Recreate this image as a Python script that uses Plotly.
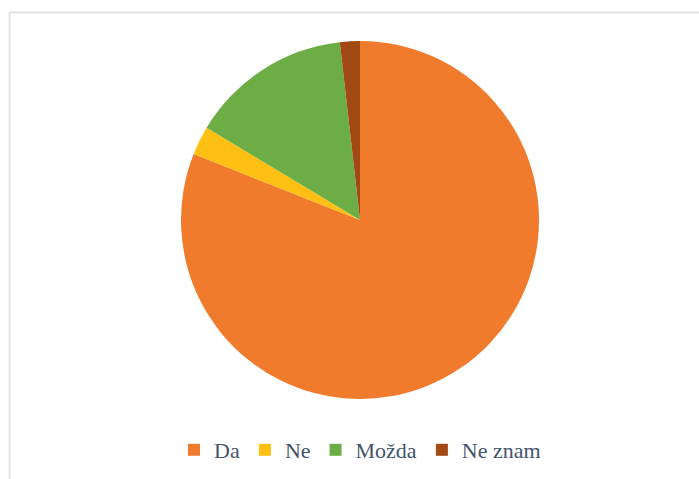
import plotly.graph_objects as go

categories = ["Da", "Ne", "Možda", "Ne znam"]
values = [81.1, 2.6, 14.6, 1.8]
colors = ["#F07B2D", "#FDC013", "#6DAD45", "#A14A14"]

W, H = 699, 479
cx, cy, r = 360, 220, 179

fig = go.Figure(go.Pie(
    labels=categories,
    values=values,
    sort=False,
    direction="clockwise",
    rotation=0,
    textinfo="none",
    hoverinfo="label+percent",
    marker=dict(colors=colors, line=dict(width=0)),
    domain=dict(x=[(cx - r) / W, (cx + r) / W], y=[1 - (cy + r) / H, 1 - (cy - r) / H]),
))

fig.update_layout(
    width=W, height=H,
    margin=dict(l=0, r=0, t=0, b=0),
    paper_bgcolor="white",
    plot_bgcolor="white",
    showlegend=True,
    legend=dict(
        orientation="h",
        x=360 / W, xanchor="center",
        y=1 - 450 / H, yanchor="middle",
        font=dict(family="Liberation Serif", size=22, color="#44546A"),
        itemwidth=30,
        traceorder="normal",
    ),
    shapes=[
        dict(type="line", xref="paper", yref="paper",
             x0=9.5 / W, x1=9.5 / W, y0=0, y1=1 - 12.5 / H,
             line=dict(color="#E1E5EA", width=2)),
        dict(type="line", xref="paper", yref="paper",
             x0=9.5 / W, x1=1, y0=1 - 12.5 / H, y1=1 - 12.5 / H,
             line=dict(color="#E1E5EA", width=2)),
    ],
)

fig.write_html(
    "out.html",
    config={"displayModeBar": False},
    post_script="document.body.style.margin='0px';document.body.style.overflow='hidden';",
)
